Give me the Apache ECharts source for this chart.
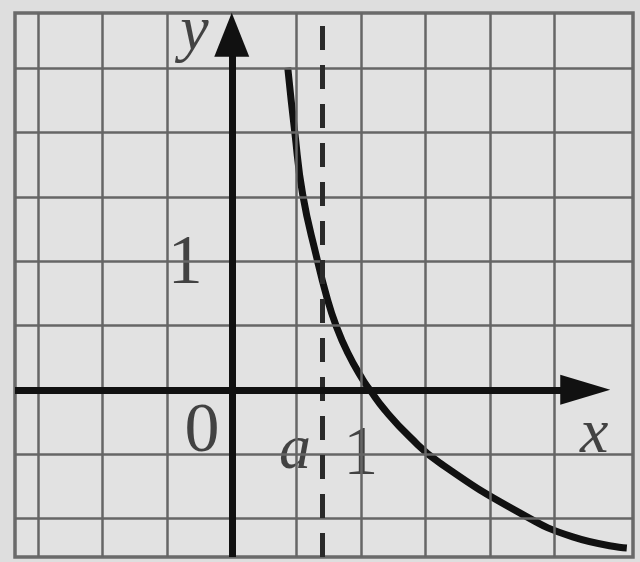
<!DOCTYPE html>
<html>
<head>
<meta charset="utf-8">
<script src="https://cdn.jsdelivr.net/npm/echarts@6/dist/echarts.min.js"></script>
<style>
  html, body { margin: 0; padding: 0; background: #dedede; }
  #chart { width: 640px; height: 562px; }
</style>
</head>
<body>
<div id="chart"></div>
<script>
// curve
var curveX = [0.434, 0.488, 0.550, 0.659, 0.736, 0.806, 0.899, 1.016, 1.070, 1.186, 1.380, 1.612, 2.233, 2.643, 3.062];
var curveY = [2.506, 2.008, 1.518, 1.027, 0.724, 0.506, 0.288, 0.078, 0.000, -0.156, -0.366, -0.568, -0.957, -1.144, -1.230];

// graph paper lines (every half unit)
var gridX = [-1.5, -1, -0.5, 0.5, 1, 1.5, 2, 2.5];
var gridY = [-1, -0.5, 0.5, 1, 1.5, 2, 2.5];

var asymptoteA = 0.70;

var xMin = -1.68, xMax = 3.11;
var yMin = -1.30, yMax = 2.93;
// where the arrow heads sit (centre of the triangle)
var xArrowEnd = 2.74;
var yArrowEnd = 2.76;

// text labels and the point each one sits at
var labelText = ['y', 'x', '0', '1', 'a', '1'];
var labelX = [-0.29, 2.81, -0.23, -0.36, 0.49, 1.0];
var labelY = [2.78, -0.35, -0.33, 0.97, -0.48, -0.51];
var labelItalic = [true, true, false, false, true, false];

var myChart = echarts.init(document.getElementById('chart'));

var gridLines = [];
gridX.forEach(function (v) { gridLines.push({ xAxis: v }); });
gridY.forEach(function (v) { gridLines.push({ yAxis: v }); });

var labelData = labelText.map(function (t, i) {
  return {
    name: t,
    value: [labelX[i], labelY[i]],
    label: { fontStyle: labelItalic[i] ? 'italic' : 'normal', fontSize: labelItalic[i] ? 64 : 70 }
  };
});

var option = {
  backgroundColor: '#dedede',
  animation: false,
  grid: {
    left: 15, right: 7, top: 13, bottom: 5,
    show: true,
    borderColor: '#6a6a6a',
    borderWidth: 3.5,
    backgroundColor: '#e2e2e2'
  },
  xAxis: { type: 'value', min: xMin, max: xMax, show: false },
  yAxis: { type: 'value', min: yMin, max: yMax, show: false },
  series: [
    {
      name: 'paper',
      type: 'line',
      data: [],
      markLine: {
        silent: true,
        symbol: 'none',
        label: { show: false },
        lineStyle: { color: '#666', width: 2.5, type: 'solid' },
        data: gridLines
      }
    },
    {
      name: 'asymptote',
      type: 'line',
      data: [],
      markLine: {
        silent: true,
        symbol: 'none',
        label: { show: false },
        lineStyle: { color: '#2a2a2a', width: 5, type: [24, 15] },
        data: [{ xAxis: asymptoteA }]
      }
    },
    {
      name: 'axes',
      type: 'line',
      data: [],
      clip: false,
      markLine: {
        silent: true,
        symbol: ['none', 'triangle'],
        label: { show: false },
        lineStyle: { color: '#111', width: 7, type: 'solid' },
        data: [
          [{ coord: [xMin, 0], symbolSize: [30, 50] }, { coord: [xArrowEnd, 0], symbolSize: [30, 50] }],
          [{ coord: [0, yMin], symbolSize: [35, 44] }, { coord: [0, yArrowEnd], symbolSize: [35, 44] }]
        ]
      }
    },
    {
      name: 'curve',
      type: 'line',
      smooth: 0.5,
      showSymbol: false,
      clip: true,
      lineStyle: { color: '#111', width: 7 },
      data: curveX.map(function (x, i) { return [x, curveY[i]]; })
    },
    {
      name: 'labels',
      type: 'scatter',
      symbolSize: 0,
      silent: true,
      label: {
        show: true,
        position: 'inside',
        formatter: '{b}',
        color: '#1a1a1a',
        fontFamily: 'Liberation Serif',
        fontSize: 70
      },
      data: labelData
    }
  ]
};

option && myChart.setOption(option);
</script>
</body>
</html>
